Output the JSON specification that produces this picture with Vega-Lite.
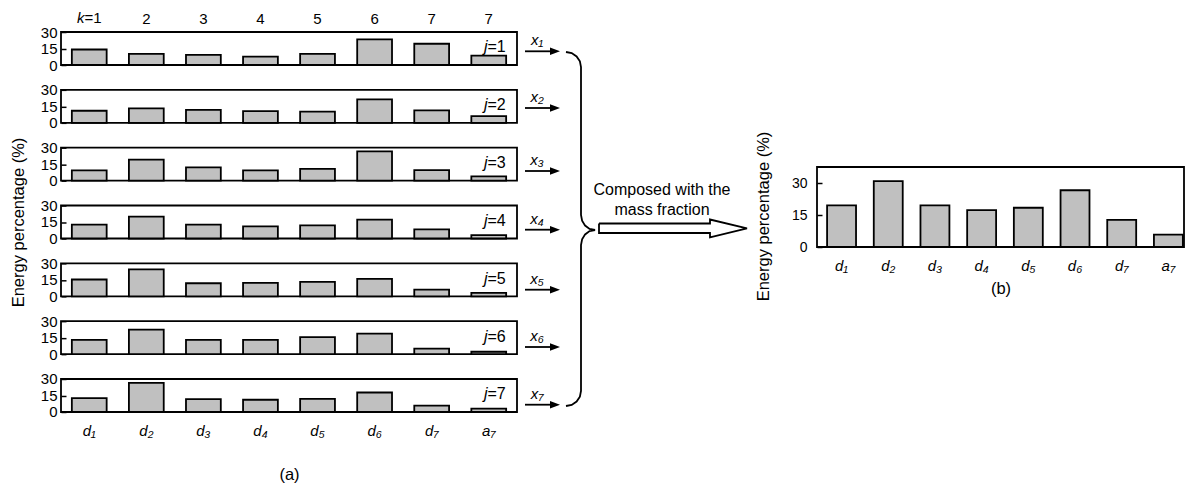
{
  "$schema": "https://vega.github.io/schema/vega-lite/v6.json",
  "background": "white",
  "padding": {"left": 9, "top": 10, "right": 0, "bottom": 0},
  "config": {
    "font": "Liberation Sans",
    "view": {"stroke": "#000", "strokeWidth": 1.8},
    "axis": {"labelFont": "Liberation Sans", "titleFont": "Liberation Sans", "labelColor": "#000", "titleColor": "#000", "titleFontWeight": "normal", "domain": false, "ticks": false, "grid": false},
    "axisY": {"labelOverlap": false, "ticks": true, "tickSize": -5, "tickColor": "#000", "tickWidth": 1.5},
    "text": {"font": "Liberation Sans", "color": "#000"},
    "title": {"font": "Liberation Sans", "fontWeight": "normal", "color": "#000"}
  },
  "datasets": {
    "panels": [
      {"j": 1, "comp": "d₁", "pct": 14.1}, {"j": 1, "comp": "d₂", "pct": 10.1}, {"j": 1, "comp": "d₃", "pct": 9.2}, {"j": 1, "comp": "d₄", "pct": 7.7}, {"j": 1, "comp": "d₅", "pct": 10.1}, {"j": 1, "comp": "d₆", "pct": 23.3}, {"j": 1, "comp": "d₇", "pct": 19.3}, {"j": 1, "comp": "a₇", "pct": 8.5},
      {"j": 2, "comp": "d₁", "pct": 11.0}, {"j": 2, "comp": "d₂", "pct": 13.2}, {"j": 2, "comp": "d₃", "pct": 11.7}, {"j": 2, "comp": "d₄", "pct": 10.7}, {"j": 2, "comp": "d₅", "pct": 10.1}, {"j": 2, "comp": "d₆", "pct": 21.4}, {"j": 2, "comp": "d₇", "pct": 11.3}, {"j": 2, "comp": "a₇", "pct": 6.1},
      {"j": 3, "comp": "d₁", "pct": 9.3}, {"j": 3, "comp": "d₂", "pct": 19.2}, {"j": 3, "comp": "d₃", "pct": 12.1}, {"j": 3, "comp": "d₄", "pct": 9.3}, {"j": 3, "comp": "d₅", "pct": 10.8}, {"j": 3, "comp": "d₆", "pct": 26.7}, {"j": 3, "comp": "d₇", "pct": 9.6}, {"j": 3, "comp": "a₇", "pct": 3.9},
      {"j": 4, "comp": "d₁", "pct": 12.6}, {"j": 4, "comp": "d₂", "pct": 19.9}, {"j": 4, "comp": "d₃", "pct": 12.6}, {"j": 4, "comp": "d₄", "pct": 11.0}, {"j": 4, "comp": "d₅", "pct": 11.9}, {"j": 4, "comp": "d₆", "pct": 17.1}, {"j": 4, "comp": "d₇", "pct": 8.3}, {"j": 4, "comp": "a₇", "pct": 3.1},
      {"j": 5, "comp": "d₁", "pct": 15.3}, {"j": 5, "comp": "d₂", "pct": 24.5}, {"j": 5, "comp": "d₃", "pct": 11.9}, {"j": 5, "comp": "d₄", "pct": 12.2}, {"j": 5, "comp": "d₅", "pct": 13.2}, {"j": 5, "comp": "d₆", "pct": 15.9}, {"j": 5, "comp": "d₇", "pct": 6.1}, {"j": 5, "comp": "a₇", "pct": 3.1},
      {"j": 6, "comp": "d₁", "pct": 13.0}, {"j": 6, "comp": "d₂", "pct": 22.3}, {"j": 6, "comp": "d₃", "pct": 13.0}, {"j": 6, "comp": "d₄", "pct": 13.0}, {"j": 6, "comp": "d₅", "pct": 15.5}, {"j": 6, "comp": "d₆", "pct": 18.6}, {"j": 6, "comp": "d₇", "pct": 5.0}, {"j": 6, "comp": "a₇", "pct": 2.2},
      {"j": 7, "comp": "d₁", "pct": 12.6}, {"j": 7, "comp": "d₂", "pct": 26.4}, {"j": 7, "comp": "d₃", "pct": 11.7}, {"j": 7, "comp": "d₄", "pct": 11.1}, {"j": 7, "comp": "d₅", "pct": 12.0}, {"j": 7, "comp": "d₆", "pct": 17.7}, {"j": 7, "comp": "d₇", "pct": 5.7}, {"j": 7, "comp": "a₇", "pct": 3.0}
    ],
    "composed": [
      {"comp": "d₁", "pct": 19.5}, {"comp": "d₂", "pct": 30.9}, {"comp": "d₃", "pct": 19.5}, {"comp": "d₄", "pct": 17.3}, {"comp": "d₅", "pct": 18.4}, {"comp": "d₆", "pct": 26.6}, {"comp": "d₇", "pct": 12.7}, {"comp": "a₇", "pct": 5.8}
    ],
    "flows": [
      {"lab": "x₁", "v": 52.3}, {"lab": "x₂", "v": 109}, {"lab": "x₃", "v": 172}, {"lab": "x₄", "v": 230.7}, {"lab": "x₅", "v": 290.7}, {"lab": "x₆", "v": 348}, {"lab": "x₇", "v": 405.7}
    ],
    "brace": [
      {"i": 0, "u": 568, "v": 53}, {"i": 1, "u": 573.7, "v": 54.1}, {"i": 2, "u": 578.6, "v": 57.4}, {"i": 3, "u": 581.9, "v": 62.3}, {"i": 4, "u": 583, "v": 68},
      {"i": 5, "u": 583, "v": 216}, {"i": 6, "u": 584.1, "v": 221.7}, {"i": 7, "u": 587.1, "v": 226.6}, {"i": 8, "u": 591.6, "v": 229.9}, {"i": 9, "u": 597, "v": 231},
      {"i": 10, "u": 591.6, "v": 232.1}, {"i": 11, "u": 587.1, "v": 235.4}, {"i": 12, "u": 584.1, "v": 240.3}, {"i": 13, "u": 583, "v": 246},
      {"i": 14, "u": 583, "v": 392}, {"i": 15, "u": 581.9, "v": 397.7}, {"i": 16, "u": 578.6, "v": 402.6}, {"i": 17, "u": 573.7, "v": 405.9}, {"i": 18, "u": 568, "v": 407}
    ],
    "hollow": [
      {"i": 0, "u": 601, "v": 224.5}, {"i": 1, "u": 712, "v": 224.5}, {"i": 2, "u": 712, "v": 220.5}, {"i": 3, "u": 749, "v": 229.3}, {"i": 4, "u": 712, "v": 238.3}, {"i": 5, "u": 712, "v": 234}, {"i": 6, "u": 601, "v": 234}, {"i": 7, "u": 601, "v": 224.5}
    ]
  },
  "spacing": 0,
  "hconcat": [
    {
      "vconcat": [
        {
          "width": 456, "height": 33,
          "layer": [
            {"data": {"name": "panels"}, "transform": [{"filter": "datum.j == 1"}],
             "mark": {"type": "bar", "fill": "#c0c0c0", "stroke": "#000", "strokeWidth": 1.8},
             "encoding": {
               "x": {"field": "comp", "type": "nominal", "scale": {"domain": ["d₁","d₂","d₃","d₄","d₅","d₆","d₇","a₇"], "paddingInner": 0.39, "paddingOuter": 0.19},
                     "axis": {"orient": "top", "title": null, "labelAngle": 0, "labelFontSize": 15, "labelPadding": 6, "labelExpr": "datum.value == 'd₁' ? '' : datum.value == 'a₇' ? '7' : '' + (indexof(['d₁','d₂','d₃','d₄','d₅','d₆','d₇'], datum.value) + 1)"}},
               "y": {"field": "pct", "type": "quantitative", "scale": {"domain": [0, 30], "nice": false}, "axis": {"values": [0, 15, 30], "title": null, "labelFontSize": 15, "labelPadding": 9, "labelFlush": false, "labelOverlap": false}}}},
            {"data": {"values": [{}]}, "mark": {"type": "text", "text": "k", "align": "right", "baseline": "bottom", "dx": -4.8, "dy": -6, "fontSize": 15, "fontStyle": "italic"}, "encoding": {"x": {"datum": "d₁"}, "y": {"datum": 30, "axis": {"values": [0, 15, 30], "title": null, "labelFontSize": 15, "labelPadding": 9, "labelFlush": false, "labelOverlap": false}}}},
            {"data": {"values": [{}]}, "mark": {"type": "text", "text": "=1", "align": "left", "baseline": "bottom", "dx": -4.8, "dy": -6, "fontSize": 15}, "encoding": {"x": {"datum": "d₁"}, "y": {"datum": 30, "axis": {"values": [0, 15, 30], "title": null, "labelFontSize": 15, "labelPadding": 9, "labelFlush": false, "labelOverlap": false}}}},
            {"data": {"values": [{}]}, "mark": {"type": "text", "text": "=1", "align": "right", "baseline": "alphabetic", "dx": 17, "fontSize": 16}, "encoding": {"x": {"datum": "a₇"}, "y": {"datum": 11.5, "axis": {"values": [0, 15, 30], "title": null, "labelFontSize": 15, "labelPadding": 9, "labelFlush": false, "labelOverlap": false}}}},
            {"data": {"values": [{}]}, "mark": {"type": "text", "text": "j", "align": "right", "baseline": "alphabetic", "dx": -1.2, "fontSize": 16, "fontStyle": "italic"}, "encoding": {"x": {"datum": "a₇"}, "y": {"datum": 11.5, "axis": {"values": [0, 15, 30], "title": null, "labelFontSize": 15, "labelPadding": 9, "labelFlush": false, "labelOverlap": false}}}}
          ]
        },
        {
          "width": 456, "height": 33,
          "layer": [
            {"data": {"name": "panels"}, "transform": [{"filter": "datum.j == 2"}],
             "mark": {"type": "bar", "fill": "#c0c0c0", "stroke": "#000", "strokeWidth": 1.8},
             "encoding": {
               "x": {"field": "comp", "type": "nominal", "scale": {"domain": ["d₁","d₂","d₃","d₄","d₅","d₆","d₇","a₇"], "paddingInner": 0.39, "paddingOuter": 0.19}, "axis": null},
               "y": {"field": "pct", "type": "quantitative", "scale": {"domain": [0, 30], "nice": false}, "axis": {"values": [0, 15, 30], "title": null, "labelFontSize": 15, "labelPadding": 9, "labelFlush": false, "labelOverlap": false}}}},
            {"data": {"values": [{}]}, "mark": {"type": "text", "text": "=2", "align": "right", "baseline": "alphabetic", "dx": 17, "fontSize": 16}, "encoding": {"x": {"datum": "a₇", "axis": null}, "y": {"datum": 11.5, "axis": {"values": [0, 15, 30], "title": null, "labelFontSize": 15, "labelPadding": 9, "labelFlush": false, "labelOverlap": false}}}},
            {"data": {"values": [{}]}, "mark": {"type": "text", "text": "j", "align": "right", "baseline": "alphabetic", "dx": -1.2, "fontSize": 16, "fontStyle": "italic"}, "encoding": {"x": {"datum": "a₇", "axis": null}, "y": {"datum": 11.5, "axis": {"values": [0, 15, 30], "title": null, "labelFontSize": 15, "labelPadding": 9, "labelFlush": false, "labelOverlap": false}}}}
          ]
        },
        {
          "width": 456, "height": 33,
          "layer": [
            {"data": {"name": "panels"}, "transform": [{"filter": "datum.j == 3"}],
             "mark": {"type": "bar", "fill": "#c0c0c0", "stroke": "#000", "strokeWidth": 1.8},
             "encoding": {
               "x": {"field": "comp", "type": "nominal", "scale": {"domain": ["d₁","d₂","d₃","d₄","d₅","d₆","d₇","a₇"], "paddingInner": 0.39, "paddingOuter": 0.19}, "axis": null},
               "y": {"field": "pct", "type": "quantitative", "scale": {"domain": [0, 30], "nice": false}, "axis": {"values": [0, 15, 30], "title": null, "labelFontSize": 15, "labelPadding": 9, "labelFlush": false, "labelOverlap": false}}}},
            {"data": {"values": [{}]}, "mark": {"type": "text", "text": "=3", "align": "right", "baseline": "alphabetic", "dx": 17, "fontSize": 16}, "encoding": {"x": {"datum": "a₇", "axis": null}, "y": {"datum": 11.5, "axis": {"values": [0, 15, 30], "title": null, "labelFontSize": 15, "labelPadding": 9, "labelFlush": false, "labelOverlap": false}}}},
            {"data": {"values": [{}]}, "mark": {"type": "text", "text": "j", "align": "right", "baseline": "alphabetic", "dx": -1.2, "fontSize": 16, "fontStyle": "italic"}, "encoding": {"x": {"datum": "a₇", "axis": null}, "y": {"datum": 11.5, "axis": {"values": [0, 15, 30], "title": null, "labelFontSize": 15, "labelPadding": 9, "labelFlush": false, "labelOverlap": false}}}}
          ]
        },
        {
          "width": 456, "height": 33,
          "layer": [
            {"data": {"name": "panels"}, "transform": [{"filter": "datum.j == 4"}],
             "mark": {"type": "bar", "fill": "#c0c0c0", "stroke": "#000", "strokeWidth": 1.8},
             "encoding": {
               "x": {"field": "comp", "type": "nominal", "scale": {"domain": ["d₁","d₂","d₃","d₄","d₅","d₆","d₇","a₇"], "paddingInner": 0.39, "paddingOuter": 0.19}, "axis": null},
               "y": {"field": "pct", "type": "quantitative", "scale": {"domain": [0, 30], "nice": false}, "axis": {"values": [0, 15, 30], "title": "Energy percentage (%)", "titleFontSize": 16.5, "titlePadding": 14, "labelFontSize": 15, "labelPadding": 9, "labelFlush": false, "labelOverlap": false}}}},
            {"data": {"values": [{}]}, "mark": {"type": "text", "text": "=4", "align": "right", "baseline": "alphabetic", "dx": 17, "fontSize": 16}, "encoding": {"x": {"datum": "a₇", "axis": null}, "y": {"datum": 11.5, "axis": {"values": [0, 15, 30], "title": "Energy percentage (%)", "titleFontSize": 16.5, "titlePadding": 14, "labelFontSize": 15, "labelPadding": 9, "labelFlush": false, "labelOverlap": false}}}},
            {"data": {"values": [{}]}, "mark": {"type": "text", "text": "j", "align": "right", "baseline": "alphabetic", "dx": -1.2, "fontSize": 16, "fontStyle": "italic"}, "encoding": {"x": {"datum": "a₇", "axis": null}, "y": {"datum": 11.5, "axis": {"values": [0, 15, 30], "title": "Energy percentage (%)", "titleFontSize": 16.5, "titlePadding": 14, "labelFontSize": 15, "labelPadding": 9, "labelFlush": false, "labelOverlap": false}}}}
          ]
        },
        {
          "width": 456, "height": 33,
          "layer": [
            {"data": {"name": "panels"}, "transform": [{"filter": "datum.j == 5"}],
             "mark": {"type": "bar", "fill": "#c0c0c0", "stroke": "#000", "strokeWidth": 1.8},
             "encoding": {
               "x": {"field": "comp", "type": "nominal", "scale": {"domain": ["d₁","d₂","d₃","d₄","d₅","d₆","d₇","a₇"], "paddingInner": 0.39, "paddingOuter": 0.19}, "axis": null},
               "y": {"field": "pct", "type": "quantitative", "scale": {"domain": [0, 30], "nice": false}, "axis": {"values": [0, 15, 30], "title": null, "labelFontSize": 15, "labelPadding": 9, "labelFlush": false, "labelOverlap": false}}}},
            {"data": {"values": [{}]}, "mark": {"type": "text", "text": "=5", "align": "right", "baseline": "alphabetic", "dx": 17, "fontSize": 16}, "encoding": {"x": {"datum": "a₇", "axis": null}, "y": {"datum": 11.5, "axis": {"values": [0, 15, 30], "title": null, "labelFontSize": 15, "labelPadding": 9, "labelFlush": false, "labelOverlap": false}}}},
            {"data": {"values": [{}]}, "mark": {"type": "text", "text": "j", "align": "right", "baseline": "alphabetic", "dx": -1.2, "fontSize": 16, "fontStyle": "italic"}, "encoding": {"x": {"datum": "a₇", "axis": null}, "y": {"datum": 11.5, "axis": {"values": [0, 15, 30], "title": null, "labelFontSize": 15, "labelPadding": 9, "labelFlush": false, "labelOverlap": false}}}}
          ]
        },
        {
          "width": 456, "height": 33,
          "layer": [
            {"data": {"name": "panels"}, "transform": [{"filter": "datum.j == 6"}],
             "mark": {"type": "bar", "fill": "#c0c0c0", "stroke": "#000", "strokeWidth": 1.8},
             "encoding": {
               "x": {"field": "comp", "type": "nominal", "scale": {"domain": ["d₁","d₂","d₃","d₄","d₅","d₆","d₇","a₇"], "paddingInner": 0.39, "paddingOuter": 0.19}, "axis": null},
               "y": {"field": "pct", "type": "quantitative", "scale": {"domain": [0, 30], "nice": false}, "axis": {"values": [0, 15, 30], "title": null, "labelFontSize": 15, "labelPadding": 9, "labelFlush": false, "labelOverlap": false}}}},
            {"data": {"values": [{}]}, "mark": {"type": "text", "text": "=6", "align": "right", "baseline": "alphabetic", "dx": 17, "fontSize": 16}, "encoding": {"x": {"datum": "a₇", "axis": null}, "y": {"datum": 11.5, "axis": {"values": [0, 15, 30], "title": null, "labelFontSize": 15, "labelPadding": 9, "labelFlush": false, "labelOverlap": false}}}},
            {"data": {"values": [{}]}, "mark": {"type": "text", "text": "j", "align": "right", "baseline": "alphabetic", "dx": -1.2, "fontSize": 16, "fontStyle": "italic"}, "encoding": {"x": {"datum": "a₇", "axis": null}, "y": {"datum": 11.5, "axis": {"values": [0, 15, 30], "title": null, "labelFontSize": 15, "labelPadding": 9, "labelFlush": false, "labelOverlap": false}}}}
          ]
        },
        {
          "width": 456, "height": 33,
          "layer": [
            {"data": {"name": "panels"}, "transform": [{"filter": "datum.j == 7"}],
             "mark": {"type": "bar", "fill": "#c0c0c0", "stroke": "#000", "strokeWidth": 1.8},
             "encoding": {
               "x": {"field": "comp", "type": "nominal", "scale": {"domain": ["d₁","d₂","d₃","d₄","d₅","d₆","d₇","a₇"], "paddingInner": 0.39, "paddingOuter": 0.19},
                     "axis": {"orient": "bottom", "title": "(a)", "titleFontSize": 16.5, "titlePadding": 28, "labelAngle": 0, "labelFontSize": 15, "labelFontStyle": "italic", "labelPadding": 12}},
               "y": {"field": "pct", "type": "quantitative", "scale": {"domain": [0, 30], "nice": false}, "axis": {"values": [0, 15, 30], "title": null, "labelFontSize": 15, "labelPadding": 9, "labelFlush": false, "labelOverlap": false}}}},
            {"data": {"values": [{}]}, "mark": {"type": "text", "text": "=7", "align": "right", "baseline": "alphabetic", "dx": 17, "fontSize": 16}, "encoding": {"x": {"datum": "a₇"}, "y": {"datum": 11.5, "axis": {"values": [0, 15, 30], "title": null, "labelFontSize": 15, "labelPadding": 9, "labelFlush": false, "labelOverlap": false}}}},
            {"data": {"values": [{}]}, "mark": {"type": "text", "text": "j", "align": "right", "baseline": "alphabetic", "dx": -1.2, "fontSize": 16, "fontStyle": "italic"}, "encoding": {"x": {"datum": "a₇"}, "y": {"datum": 11.5, "axis": {"values": [0, 15, 30], "title": null, "labelFontSize": 15, "labelPadding": 9, "labelFlush": false, "labelOverlap": false}}}}
          ]
        }
      ],
      "spacing": 24.83,
      "bounds": "flush"
    },
    {
      "width": 236, "height": 430,
      "view": {"stroke": null},
      "layer": [
        {"data": {"name": "flows"}, "mark": {"type": "rule", "stroke": "#000", "strokeWidth": 1.8},
         "encoding": {
           "x": {"datum": 527, "type": "quantitative", "scale": {"domain": [520, 756], "nice": false, "zero": false}, "axis": null},
           "x2": {"datum": 554},
           "y": {"field": "v", "type": "quantitative", "scale": {"domain": [33, 463], "reverse": true, "nice": false, "zero": false}, "axis": null}}},
        {"data": {"name": "flows"}, "mark": {"type": "point", "shape": "M 0 0 L -1 -0.38 L -1 0.38 Z", "size": 400, "filled": true, "fill": "#000", "opacity": 1, "strokeWidth": 0},
         "encoding": {
           "x": {"datum": 562, "type": "quantitative", "axis": null},
           "y": {"field": "v", "type": "quantitative", "axis": null}}},
        {"data": {"name": "flows"}, "mark": {"type": "text", "fontSize": 15, "fontStyle": "italic", "baseline": "alphabetic", "align": "center", "dy": -6},
         "encoding": {
           "x": {"datum": 539, "type": "quantitative", "axis": null},
           "y": {"field": "v", "type": "quantitative", "axis": null},
           "text": {"field": "lab"}}},
        {"data": {"name": "brace"}, "mark": {"type": "line", "stroke": "#000", "strokeWidth": 1.8},
         "encoding": {
           "x": {"field": "u", "type": "quantitative", "axis": null},
           "y": {"field": "v", "type": "quantitative", "axis": null},
           "order": {"field": "i"}}},
        {"data": {"name": "hollow"}, "mark": {"type": "line", "stroke": "#000", "strokeWidth": 1.8},
         "encoding": {
           "x": {"field": "u", "type": "quantitative", "axis": null},
           "y": {"field": "v", "type": "quantitative", "axis": null},
           "order": {"field": "i"}}},
        {"data": {"values": [{}]}, "mark": {"type": "text", "text": ["Composed with the", "mass fraction"], "fontSize": 16, "lineHeight": 20, "align": "center", "baseline": "alphabetic"},
         "encoding": {
           "x": {"datum": 664, "type": "quantitative", "axis": null},
           "y": {"datum": 196, "type": "quantitative", "axis": null}}}
      ]
    },
    {
      "vconcat": [
        {"width": 10, "height": 135, "view": {"stroke": null}, "data": {"values": []}, "mark": "rect", "encoding": {}},
        {
          "width": 367, "height": 80,
          "data": {"name": "composed"},
          "mark": {"type": "bar", "fill": "#c0c0c0", "stroke": "#000", "strokeWidth": 1.8},
          "encoding": {
            "x": {"field": "comp", "type": "nominal", "scale": {"domain": ["d₁","d₂","d₃","d₄","d₅","d₆","d₇","a₇"], "paddingInner": 0.38, "paddingOuter": 0.12, "align": 0.9},
                  "axis": {"title": "(b)", "titleFontSize": 16.5, "titlePadding": 7, "labelAngle": 0, "labelFontStyle": "italic", "labelFontSize": 15, "labelPadding": 11}},
            "y": {"field": "pct", "type": "quantitative", "scale": {"domain": [0, 37.5], "nice": false},
                  "axis": {"values": [0, 15, 30], "title": "Energy percentage (%)", "titleFontSize": 16.5, "titlePadding": 20, "titleY": 49, "labelFontSize": 14, "labelPadding": 15, "labelFlush": false}}
          }
        }
      ],
      "spacing": 0,
      "bounds": "flush"
    }
  ]
}
